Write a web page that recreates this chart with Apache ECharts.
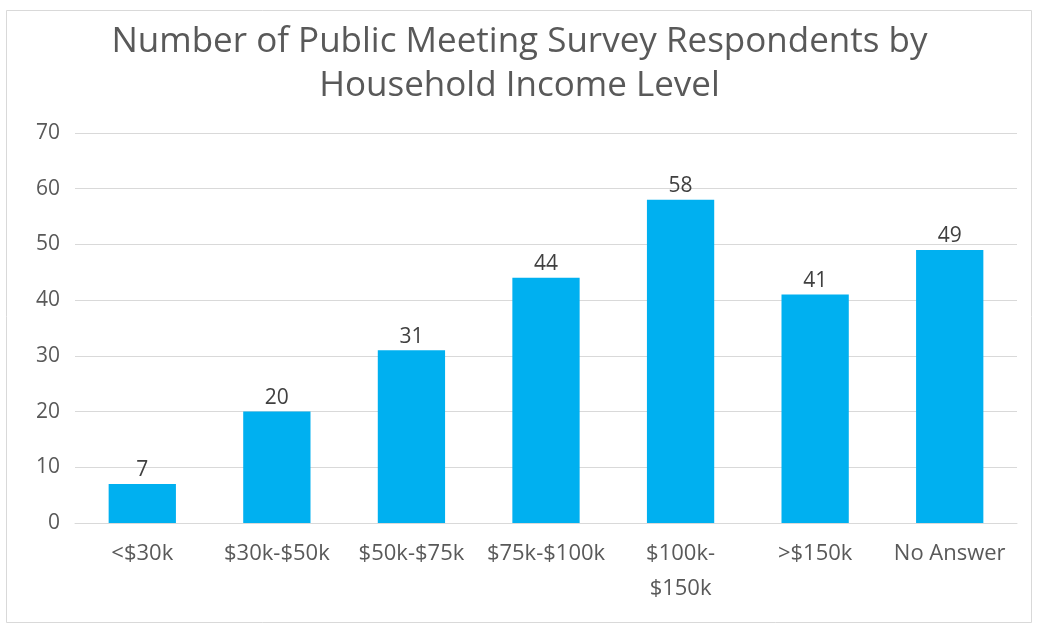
<!DOCTYPE html>
<html>
<head>
<meta charset="utf-8">
<script src="https://cdn.jsdelivr.net/npm/echarts@6/dist/echarts.min.js"></script>
<style>
html,body{margin:0;padding:0;background:#fff;}
#chart{width:1039px;height:624px;}
</style>
</head>
<body>
<div id="chart"></div>
<script>
const titleText = 'Number of Public Meeting Survey Respondents by\nHousehold Income Level';
const categories = ['<$30k', '$30k-$50k', '$50k-$75k', '$75k-$100k', '$100k-\n$150k', '>$150k', 'No Answer'];
const respondents = [7, 20, 31, 44, 58, 41, 49];
const yTicks = { min: 0, max: 70, interval: 10 };

const chart = echarts.init(document.getElementById('chart'), null, { renderer: 'canvas' });
const font = '"Open Sans", "Noto Sans", sans-serif';
chart.setOption({
  animation: false,
  backgroundColor: '#fff',
  textStyle: { fontFamily: font },
  title: {
    text: titleText,
    left: 'center',
    top: 15,
    textStyle: { fontFamily: font, fontSize: 35, fontWeight: 'normal', color: '#595959', lineHeight: 44 }
  },
  graphic: [{
    type: 'rect',
    shape: { x: 6.5, y: 10.5, width: 1025, height: 612 },
    style: { fill: 'none', stroke: '#d9d9d9', lineWidth: 1 },
    silent: true
  }],
  grid: { left: 75, right: 22, top: 133, bottom: 101, containLabel: false },
  xAxis: {
    type: 'category',
    data: categories,
    axisLine: { show: true, lineStyle: { color: '#d9d9d9', width: 1 } },
    axisTick: { show: false },
    axisLabel: { color: '#595959', fontSize: 22, margin: 13, lineHeight: 35, interval: 0 }
  },
  yAxis: {
    type: 'value',
    min: yTicks.min,
    max: yTicks.max,
    interval: yTicks.interval,
    axisLine: { show: false },
    axisTick: { show: false },
    splitLine: { lineStyle: { color: '#d9d9d9', width: 1 } },
    axisLabel: { color: '#595959', fontSize: 21, margin: 15 }
  },
  series: [{
    type: 'bar',
    data: respondents,
    barCategoryGap: '50%',
    itemStyle: { color: '#00B0F0' },
    label: { show: true, position: 'top', distance: 3, color: '#404040', fontSize: 21, fontFamily: font }
  }]
});
</script>
</body>
</html>
